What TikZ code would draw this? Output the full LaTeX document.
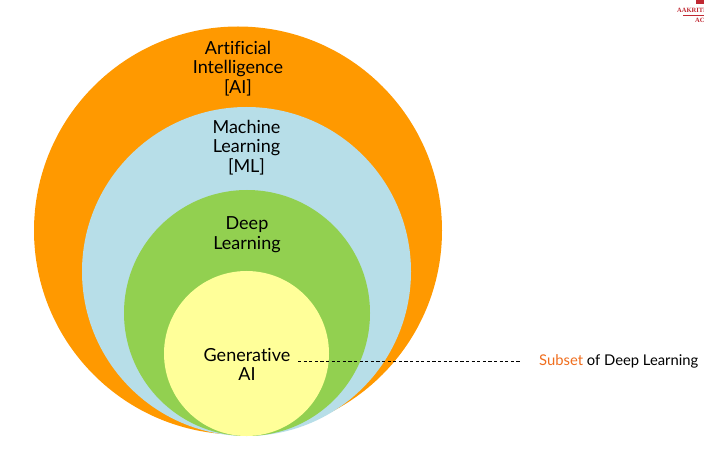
\documentclass[tikz,border=0pt]{standalone}
\usepackage{fontspec}
\setmainfont{Lato}[Ligatures=CommonOff]
\newfontfamily\logofont{Liberation Serif}
\usetikzlibrary{positioning}
\definecolor{AIOrange}{RGB}{255,153,0}
\definecolor{MLBlau}{RGB}{183,222,232}
\definecolor{DLGruen}{RGB}{146,208,80}
\definecolor{GenGelb}{RGB}{255,255,153}
\definecolor{SubOrange}{RGB}{240,110,30}
\definecolor{LogoRot}{RGB}{192,40,50}
\tikzset{
  ring/.style={shape=circle, draw=none, inner sep=0pt},
  ringlabel/.style={align=center, font=\fontsize{18}{19.5}\selectfont, text=black},
}

\begin{document}
\begin{tikzpicture}[x=1pt, y=-1pt]
    \useasboundingbox (0,0) rectangle (704,454);
    \clip (0,0) rectangle (704,454);
    \fill[white] (0,0) rectangle (704,454);
    % circles
    \node[ring, fill=AIOrange, minimum size=408pt] (AI) at (238,230.5) {};
    \node[ring, fill=MLBlau,   minimum size=329pt] (ML) at (246.5,271.5) {};
    \node[ring, fill=DLGruen,  minimum size=246pt] (DL) at (247,313) {};
    \node[ring, fill=GenGelb,  minimum size=165pt] (Gen) at (246.5,353.5) {};
    % labels
    \node[ringlabel] (AItext)  at (238,68.5)  {Artificial\\Intelligence\\{[}AI{]}};
    \node[ringlabel] (MLtext)  at (246.5,147.5) {Machine\\Learning\\{[}ML{]}};
    \node[ringlabel] (DLtext)  at (247,234.5) {Deep\\Learning};
    \node[ringlabel] (Gentext) at (247,364.5) {Generative\\AI};
    \node[anchor=west, inner sep=0pt, font=\fontsize{14.8}{17}\selectfont] (subset) at (539,361)
        {\textcolor{SubOrange}{Subset} of Deep Learning};
    % pointer
    \coordinate (dashstart) at (298,361);
    \draw[black, line width=0.6pt, dash pattern=on 3.2pt off 2.4pt, shorten >=18pt] (dashstart) -- (subset.west);
    % logo
    \fill[LogoRot] (696,0) rectangle (704,4.5);
    \node[anchor=west, inner sep=0pt, text=LogoRot, font=\logofont\bfseries\fontsize{6.5}{7}\selectfont] (logoname) at (677,10.5) {AAKRITI};
    \node[anchor=west, inner sep=0pt, text=LogoRot, font=\logofont\bfseries\fontsize{6.5}{7}\selectfont] (logosub) at (695,20.5) {AC};
    \draw[LogoRot, line width=0.5pt] (683,15) -- (704,15);
\end{tikzpicture}
\end{document}
